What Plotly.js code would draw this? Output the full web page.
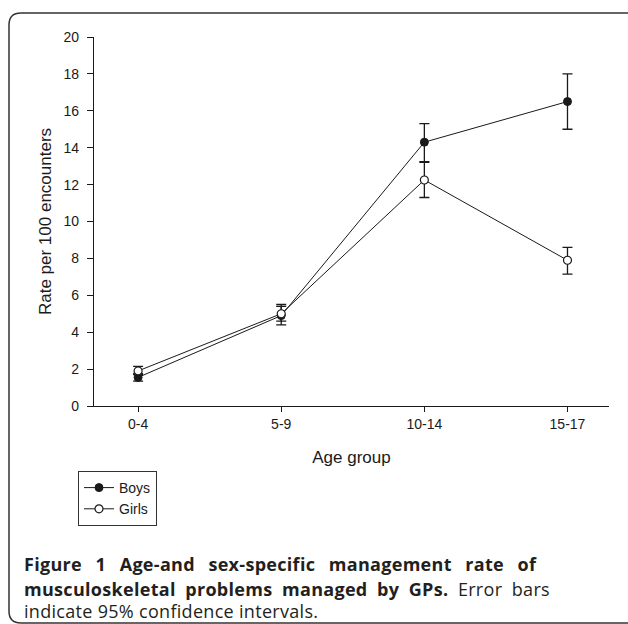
<!DOCTYPE html>
<html>
<head>
<meta charset="utf-8">
<script src="https://cdn.plot.ly/plotly-3.0.1.min.js"></script>
<style>
  html, body { margin: 0; padding: 0; background: #ffffff; }
  #chart { width: 628px; height: 624px; }
</style>
</head>
<body>
<div id="chart"></div>
<script>
// ---- data ----
const categories = ['0-4', '5-9', '10-14', '15-17'];
const boysRate  = [1.55, 4.9, 14.3, 16.5];
const boysLower = [1.35, 4.4, 13.25, 15.0];
const boysUpper = [1.75, 5.4, 15.3, 18.0];
const girlsRate  = [1.9, 5.0, 12.25, 7.9];
const girlsLower = [1.7, 4.6, 11.3, 7.15];
const girlsUpper = [2.15, 5.5, 13.2, 8.6];
const yTickVals = [0, 2, 4, 6, 8, 10, 12, 14, 16, 18, 20];
const seriesNames = ['Boys', 'Girls'];
const xTitle = 'Age group';
const yTitle = 'Rate per 100 encounters';
const captionLines = [
  '<b>Figure 1 Age-and sex-specific management rate of</b>',
  '<b>musculoskeletal problems managed by GPs.</b> Error bars',
  'indicate 95% confidence intervals.'
];

// ---- layout geometry (pixels) ----
const W = 628, H = 624;
const PL = 94, PR = 609, PT = 37, PB = 406;
const px2x = p => (p - PL) / (PR - PL);
const px2y = p => (PB - p) / (PB - PT);

function roundedFramePath(x0, y0, x1, y1, r) {
  const P = (x, y) => px2x(x).toFixed(5) + ',' + px2y(y).toFixed(5);
  return 'M' + P(x0 + r, y0) +
    ' L' + P(x1 - r, y0) + ' Q' + P(x1, y0) + ' ' + P(x1, y0 + r) +
    ' L' + P(x1, y1 - r) + ' Q' + P(x1, y1) + ' ' + P(x1 - r, y1) +
    ' L' + P(x0 + r, y1) + ' Q' + P(x0, y1) + ' ' + P(x0, y1 - r) +
    ' L' + P(x0, y0 + r) + ' Q' + P(x0, y0) + ' ' + P(x0 + r, y0) + ' Z';
}

const diff = (a, b) => a.map((v, i) => v - b[i]);

const ink = '#1a1a1a';
const boys = {
  x: categories, y: boysRate, name: seriesNames[0],
  type: 'scatter', mode: 'lines+markers',
  line: { color: ink, width: 1 },
  marker: { symbol: 'circle', size: 8, color: ink, line: { color: ink, width: 1 } },
  error_y: { type: 'data', symmetric: false,
    array: diff(boysUpper, boysRate), arrayminus: diff(boysRate, boysLower),
    color: ink, thickness: 1.3, width: 5 }
};
const girls = {
  x: categories, y: girlsRate, name: seriesNames[1],
  type: 'scatter', mode: 'lines+markers',
  line: { color: ink, width: 1 },
  marker: { symbol: 'circle', size: 8, color: '#ffffff', line: { color: ink, width: 1.2 } },
  error_y: { type: 'data', symmetric: false,
    array: diff(girlsUpper, girlsRate), arrayminus: diff(girlsRate, girlsLower),
    color: ink, thickness: 1.3, width: 5 }
};

const sans = 'Liberation Sans, Arial, sans-serif';
const tickFont = { family: sans, size: 14, color: '#1a1a1a' };
const titleFont = { family: sans, size: 17, color: '#1a1a1a' };
const capFont = { family: 'Open Sans, Noto Sans, sans-serif', size: 18, color: '#231f20' };

const layout = {
  width: W, height: H,
  margin: { l: PL, r: W - PR, t: PT, b: H - PB, pad: 0 },
  paper_bgcolor: '#ffffff', plot_bgcolor: '#ffffff',
  showlegend: true,
  xaxis: {
    type: 'category', range: [-0.308, 3.29],
    showline: true, linecolor: ink, linewidth: 1.2,
    ticks: 'outside', ticklen: 5, tickcolor: ink, tickwidth: 1,
    showgrid: false, zeroline: false, tickfont: tickFont,
    title: { text: xTitle, font: titleFont, standoff: 20 },
    automargin: false, fixedrange: true
  },
  yaxis: {
    range: [0, 20], tickvals: yTickVals,
    showline: true, linecolor: ink, linewidth: 1.2,
    ticks: 'outside', ticklen: 6, tickcolor: ink, tickwidth: 1,
    ticklabelstandoff: 5,
    showgrid: false, zeroline: false, tickfont: tickFont,
    title: { text: yTitle, font: titleFont, standoff: 7 },
    automargin: false, fixedrange: true
  },
  legend: {
    x: px2x(78), y: px2y(471), xanchor: 'left', yanchor: 'top',
    bgcolor: '#ffffff', bordercolor: '#333', borderwidth: 1,
    font: { family: sans, size: 14, color: '#1a1a1a' },
    itemwidth: 30, tracegroupgap: 0
  },
  shapes: [{
    type: 'path', xref: 'paper', yref: 'paper', layer: 'below',
    path: roundedFramePath(9, 13, 645, 623, 12),
    line: { color: '#333', width: 1.5 }, fillcolor: 'rgba(0,0,0,0)'
  }],
  annotations: captionLines.map((t, i) => ({
    text: t, xref: 'paper', yref: 'paper',
    x: px2x(22), y: px2y([564, 588.5, 611][i]),
    xanchor: 'left', yanchor: 'middle', showarrow: false, align: 'left',
    font: capFont
  }))
};

const captionTargetWidths = [513, 526, 294];
const captionLetterSpacing = [0.3, 0.3, null];

Plotly.newPlot('chart', [boys, girls], layout, { displayModeBar: false, staticPlot: true }).then(gd => {
  // print-style caption: slight tracking, remaining slack into the word gaps
  const texts = gd.querySelectorAll('.annotation-text');
  texts.forEach((el, i) => {
    const target = captionTargetWidths[i];
    const plain = captionLines[i].replace(/<[^>]+>/g, '');
    const ls = captionLetterSpacing[i];
    if (ls === null) {
      const w = el.getBBox().width;
      if (w < target) el.style.letterSpacing = ((target - w) / (plain.length - 1)).toFixed(3) + 'px';
      return;
    }
    el.style.letterSpacing = ls + 'px';
    const w = el.getBBox().width;
    const gaps = (plain.match(/ /g) || []).length;
    if (gaps > 0 && w < target) el.style.wordSpacing = ((target - w) / gaps).toFixed(2) + 'px';
  });
});
</script>
</body>
</html>
